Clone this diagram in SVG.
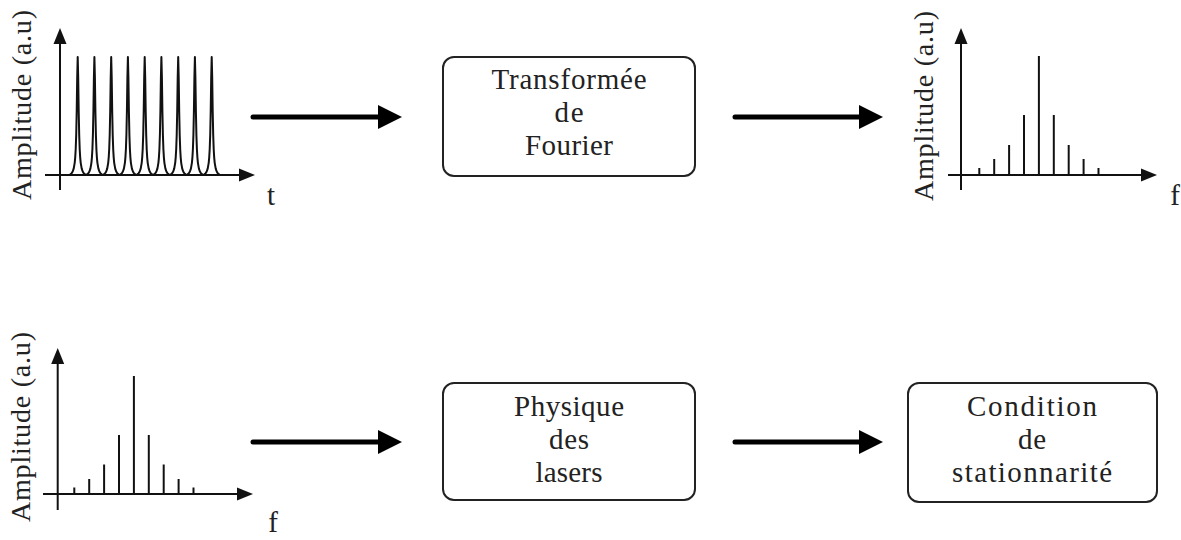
<svg xmlns="http://www.w3.org/2000/svg" width="1181" height="540" viewBox="0 0 1181 540">
<style>
.ax{stroke:#111;stroke-width:2;fill:none}
.bar{stroke:#111;stroke-width:2;fill:none}
.tip{fill:#111;stroke:none}
.conn{stroke:#000;stroke-width:5;stroke-linecap:round;fill:none}
.head{fill:#000}
.box{fill:#fff;stroke:#222;stroke-width:2}
.t{font-family:"Liberation Serif","Times New Roman",serif;font-size:29px;fill:#222;text-anchor:middle}
.yl{font-family:"Liberation Serif","Times New Roman",serif;font-size:28px;fill:#222;text-anchor:middle}
.pk{stroke:#111;stroke-width:2;fill:none;stroke-linejoin:round}
</style>
<defs>
<path id="peak" class="pk" d="M-8.35,0 L-7,-0.8 -6,-1.9 -5,-3.5 -4,-6.4 -3,-12.2 -2.5,-17.4 -2,-25.8 -1.5,-39.9 -1,-63.7 -0.5,-97.5 0,-118 0.5,-97.5 1,-63.7 1.5,-39.9 2,-25.8 2.5,-17.4 3,-12.2 4,-6.4 5,-3.5 6,-1.9 7,-0.8 8.35,0"/>
</defs>

<g id="plot-time">
<line class="ax" x1="60" y1="40" x2="60" y2="190"/>
<polygon class="tip" points="60,28 53.5,44 66.5,44"/>
<line class="ax" x1="45" y1="175" x2="242" y2="175"/>
<polygon class="tip" points="255,175 239,168.5 239,181.5"/>
<use href="#peak" x="77.7" y="175"/>
<use href="#peak" x="94.4" y="175"/>
<use href="#peak" x="111.2" y="175"/>
<use href="#peak" x="127.9" y="175"/>
<use href="#peak" x="144.7" y="175"/>
<use href="#peak" x="161.4" y="175"/>
<use href="#peak" x="178.2" y="175"/>
<use href="#peak" x="194.9" y="175"/>
<use href="#peak" x="211.7" y="175"/>
<text class="yl" transform="translate(31,105) rotate(-90)" textLength="190">Amplitude (a.u)</text>
<text class="t" x="271" y="205">t</text>
</g>

<g id="plot-freq-top">
<line class="ax" x1="961" y1="40" x2="961" y2="190"/>
<polygon class="tip" points="961,28 954.5,44 967.5,44"/>
<line class="ax" x1="948" y1="175" x2="1144" y2="175"/>
<polygon class="tip" points="1157,175 1141,168.5 1141,181.5"/>
<line class="bar" x1="979.3" y1="175" x2="979.3" y2="168"/>
<line class="bar" x1="994.2" y1="175" x2="994.2" y2="159"/>
<line class="bar" x1="1009.1" y1="175" x2="1009.1" y2="145"/>
<line class="bar" x1="1024" y1="175" x2="1024" y2="115"/>
<line class="bar" x1="1038.9" y1="175" x2="1038.9" y2="56"/>
<line class="bar" x1="1053.8" y1="175" x2="1053.8" y2="115"/>
<line class="bar" x1="1068.7" y1="175" x2="1068.7" y2="145"/>
<line class="bar" x1="1083.6" y1="175" x2="1083.6" y2="159"/>
<line class="bar" x1="1098.5" y1="175" x2="1098.5" y2="168"/>
<text class="yl" transform="translate(933,106) rotate(-90)" textLength="190">Amplitude (a.u)</text>
<text class="t" x="1175" y="205">f</text>
</g>

<g id="plot-freq-bottom">
<line class="ax" x1="57.7" y1="360" x2="57.7" y2="510"/>
<polygon class="tip" points="57.7,348 51.2,364 64.2,364"/>
<line class="ax" x1="43" y1="494" x2="240" y2="494"/>
<polygon class="tip" points="253,494 237,487.5 237,500.5"/>
<line class="bar" x1="74.3" y1="494" x2="74.3" y2="487.5"/>
<line class="bar" x1="89.2" y1="494" x2="89.2" y2="479"/>
<line class="bar" x1="104.1" y1="494" x2="104.1" y2="464.5"/>
<line class="bar" x1="119" y1="494" x2="119" y2="435"/>
<line class="bar" x1="133.9" y1="494" x2="133.9" y2="376"/>
<line class="bar" x1="148.8" y1="494" x2="148.8" y2="435"/>
<line class="bar" x1="163.7" y1="494" x2="163.7" y2="464.5"/>
<line class="bar" x1="178.6" y1="494" x2="178.6" y2="479"/>
<line class="bar" x1="193.5" y1="494" x2="193.5" y2="487.5"/>
<text class="yl" transform="translate(30,427) rotate(-90)" textLength="190">Amplitude (a.u)</text>
<text class="t" x="273" y="532">f</text>
</g>

<g id="box-fourier">
<rect class="box" x="443" y="57" width="252" height="119" rx="11"/>
<text class="t" x="569" y="89" textLength="155">Transformée</text>
<text class="t" x="569" y="122" textLength="29">de</text>
<text class="t" x="569" y="155" textLength="88">Fourier</text>
</g>

<g id="box-lasers">
<rect class="box" x="443" y="383" width="252" height="117" rx="11"/>
<text class="t" x="569" y="416" textLength="110">Physique</text>
<text class="t" x="569" y="449" textLength="40">des</text>
<text class="t" x="569" y="482" textLength="67">lasers</text>
</g>

<g id="box-condition">
<rect class="box" x="908" y="383" width="249" height="119" rx="11"/>
<text class="t" x="1032" y="416" textLength="130">Condition</text>
<text class="t" x="1032" y="449" textLength="28">de</text>
<text class="t" x="1032" y="482" textLength="160">stationnarité</text>
</g>

<g id="connectors">
<line class="conn" x1="253" y1="117" x2="382" y2="117"/>
<polygon class="head" points="402,117 378,105 378,129"/>
<line class="conn" x1="735" y1="117" x2="864" y2="117"/>
<polygon class="head" points="883,117 859,105 859,129"/>
<line class="conn" x1="253" y1="442" x2="382" y2="442"/>
<polygon class="head" points="402,442 378,430 378,454"/>
<line class="conn" x1="735" y1="442" x2="864" y2="442"/>
<polygon class="head" points="883,442 859,430 859,454"/>
</g>
</svg>
